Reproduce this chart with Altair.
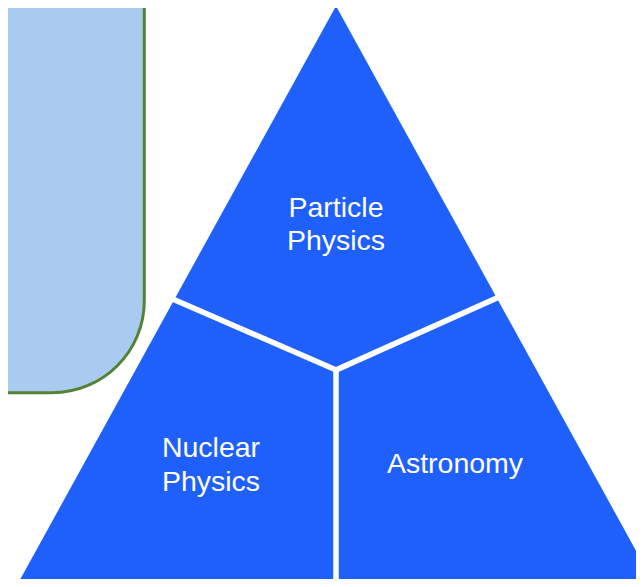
import altair as alt
import pandas as pd

# Diagram geometry, in page pixels
tri_x = [16, 336, 656]
tri_y = [587, 6, 587]
tri_base = 587

div_x = [175, 497, 336]
div_y = [300, 298, 370]
div_x2 = [336, 336, 336]
div_y2 = [370, 370, 600]

box_x, box_x2 = -100, 144.3
box_y, box_y2 = -100, 392.7

label_text = ["Particle", "Physics", "Nuclear", "Physics", "Astronomy"]
label_x = [336, 336, 211, 211, 455]
label_y = [217, 250, 457, 491, 473]

BLUE = "#2060FA"
BOX_FILL = "#A9CBF0"
BOX_STROKE = "#548235"

xs = alt.Scale(domain=[8, 636], nice=False, zero=False)
ys = alt.Scale(domain=[579, 8], nice=False, zero=False)

box_df = pd.DataFrame({"x": [box_x], "x2": [box_x2], "y": [box_y], "y2": [box_y2]})
tri_df = pd.DataFrame({"x": tri_x, "y": tri_y, "y2": [tri_base] * 3})
div_df = pd.DataFrame({"x": div_x, "y": div_y, "x2": div_x2, "y2": div_y2})
lab_df = pd.DataFrame({"t": label_text, "x": label_x, "y": label_y})

box = alt.Chart(box_df).mark_rect(
    fill=BOX_FILL, stroke=BOX_STROKE, strokeWidth=3, cornerRadius=92
).encode(
    x=alt.X("x:Q", scale=xs, axis=None), x2="x2:Q",
    y=alt.Y("y:Q", scale=ys, axis=None), y2="y2:Q",
)

tri = alt.Chart(tri_df).mark_area(color=BLUE, interpolate="linear").encode(
    x=alt.X("x:Q", scale=xs, axis=None),
    y=alt.Y("y:Q", scale=ys, axis=None),
    y2="y2:Q",
)

div = alt.Chart(div_df).mark_rule(color="white", strokeWidth=5.5, strokeCap="square").encode(
    x=alt.X("x:Q", scale=xs, axis=None), x2="x2:Q",
    y=alt.Y("y:Q", scale=ys, axis=None), y2="y2:Q",
)

labels = alt.Chart(lab_df).mark_text(
    color="white", font="Liberation Sans", fontSize=28.5, align="center", baseline="alphabetic"
).encode(
    x=alt.X("x:Q", scale=xs, axis=None),
    y=alt.Y("y:Q", scale=ys, axis=None),
    text="t:N",
)

chart = alt.layer(box, tri, div, labels).properties(
    width=628, height=571,
    autosize=alt.AutoSizeParams(type="none"),
    padding=0,
).configure_view(stroke=None)

chart.save("out.html", embed_options={"renderer": "svg", "actions": False})
